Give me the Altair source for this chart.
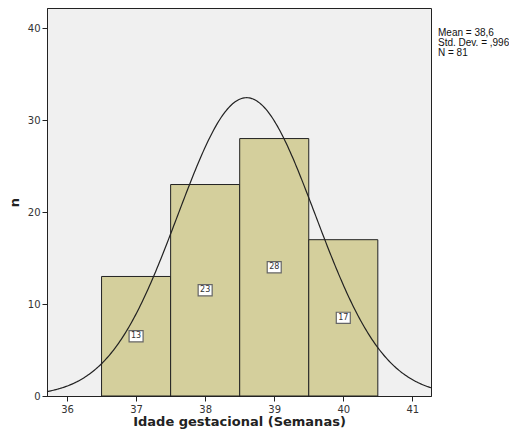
import altair as alt
import pandas as pd

# Histogram bins (weeks) and counts
bin_start = [36.5, 37.5, 38.5, 39.5]
bin_end = [37.5, 38.5, 39.5, 40.5]
counts = [13, 23, 28, 17]

# Summary statistics shown in the legend
mean_val = 38.6
sd_val = 0.996
n_val = 81
stats_text = ["Mean = 38,6", "Std. Dev. = ,996", "N = 81"]

x_ticks = [36, 37, 38, 39, 40, 41]
y_ticks = [0, 10, 20, 30, 40]
x_domain = [35.71, 41.27]
y_domain = [0, 42.2]

bars = pd.DataFrame({
    "start": bin_start,
    "end": bin_end,
    "n": counts,
    "mid": [(a + b) / 2 for a, b in zip(bin_start, bin_end)],
    "half": [c / 2 for c in counts],
    "label": [str(c) for c in counts],
})

xs = alt.Scale(domain=x_domain, nice=False, zero=False)
ys = alt.Scale(domain=y_domain, nice=False)

x_axis = alt.Axis(values=x_ticks, format="d", title="Idade gestacional (Semanas)", grid=False,
                  tickSize=5, labelPadding=3, titlePadding=1)
y_axis = alt.Axis(values=y_ticks, format="d", title="n", grid=False, tickSize=5,
                  labelPadding=2, titlePadding=6)

base = alt.Chart(bars)

hist = base.mark_rect(fill="#d4cf9c", stroke="#222222", strokeWidth=1).encode(
    x=alt.X("start:Q", scale=xs, axis=x_axis),
    x2="end:Q",
    y=alt.Y("n:Q", scale=ys, axis=y_axis),
    y2=alt.datum(0),
)

boxes = base.mark_point(
    shape="M-1,-0.8L1,-0.8L1,0.8L-1,0.8Z", size=196, filled=True,
    fill="white", stroke="#666666", strokeWidth=1.2, opacity=1
).encode(x=alt.X("mid:Q", scale=xs), y=alt.Y("half:Q", scale=ys))

labels = base.mark_text(fontSize=8, color="#333333", font="DejaVu Sans").encode(
    x=alt.X("mid:Q", scale=xs), y=alt.Y("half:Q", scale=ys), text="label:N"
)

step = (x_domain[1] - x_domain[0]) / 300
curve = alt.Chart(alt.sequence(start=x_domain[0], stop=x_domain[1] + step / 2, step=step, as_="x")).transform_calculate(
    y=f"{n_val} * exp(-0.5 * pow((datum.x - {mean_val}) / {sd_val}, 2)) / ({sd_val} * sqrt(2 * PI))"
).mark_line(color="#222222", strokeWidth=1.2).encode(
    x=alt.X("x:Q", scale=xs), y=alt.Y("y:Q", scale=ys)
)

stat_text = alt.Chart(pd.DataFrame({"t": ["\n".join(stats_text)]})).mark_text(
    align="left", baseline="top", fontSize=10, lineHeight=10, color="#111111",
    font="Liberation Sans", lineBreak="\n"
).encode(
    x=alt.value(391),
    y=alt.value(20),
    text="t:N",
)

chart = alt.layer(hist, curve, boxes, labels, stat_text).properties(
    width=384, height=388,
    autosize=alt.AutoSizeParams(type="none"),
    padding={"left": 39, "top": 0, "right": 78, "bottom": 34},
).configure_view(
    fill="#f0f0f0", stroke="#222222", strokeWidth=1
).configure_axis(
    domainColor="#222222", tickColor="#222222", labelColor="#333333",
    labelFont="DejaVu Sans", labelFontSize=10,
    titleFont="DejaVu Sans", titleFontSize=13, titleFontWeight="bold", titleColor="#222222",
)

chart.save("out.html", embed_options={"renderer": "svg", "actions": False})
